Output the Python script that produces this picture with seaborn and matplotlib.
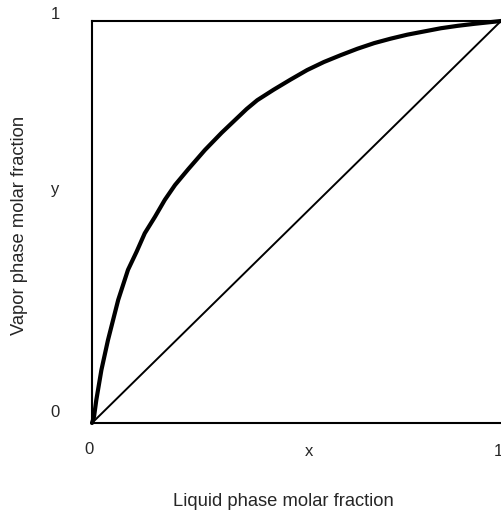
import matplotlib
matplotlib.use("Agg")
import matplotlib.pyplot as plt
import seaborn as sns
import pandas as pd

# Equilibrium curve
x_liquid = [0.0, 0.005, 0.0105, 0.023, 0.039, 0.064, 0.088, 0.109, 0.129, 0.154,
            0.178, 0.203, 0.235, 0.276, 0.317, 0.378, 0.404, 0.444, 0.485, 0.526,
            0.567, 0.608, 0.649, 0.690, 0.730, 0.771, 0.812, 0.853, 0.894, 0.935, 1.0]
y_vapor = [0.0, 0.016, 0.057, 0.132, 0.206, 0.306, 0.381, 0.426, 0.472, 0.513,
           0.555, 0.592, 0.631, 0.679, 0.722, 0.781, 0.803, 0.829, 0.854, 0.878,
           0.898, 0.915, 0.931, 0.945, 0.956, 0.966, 0.974, 0.982, 0.988, 0.993, 1.0]
# Diagonal y = x
diag_x = [0.0, 1.0]
diag_y = [0.0, 1.0]

x_ticklabels = ["0", "x", "1"]
y_ticklabels = ["0", "y", "1"]
x_label = "Liquid phase molar fraction"
y_label = "Vapor phase molar fraction"

sns.set_style("white")
plt.rcParams["font.family"] = ["Liberation Sans", "DejaVu Sans"]

fig = plt.figure(figsize=(5.01, 5.14), dpi=100)
ax = fig.add_axes([92 / 501, (514 - 423) / 514, 409 / 501, 402 / 514])

curve = pd.DataFrame({"x": x_liquid, "y": y_vapor})
diag = pd.DataFrame({"x": diag_x, "y": diag_y})
sns.lineplot(data=curve, x="x", y="y", ax=ax, color="black", linewidth=3.0,
             sort=False, estimator=None, clip_on=False,
             solid_joinstyle="round", solid_capstyle="round")
sns.lineplot(data=diag, x="x", y="y", ax=ax, color="black", linewidth=1.4,
             sort=False, estimator=None, clip_on=False)

ax.set_xlim(0, 1)
ax.set_ylim(0, 1)
ax.set_xticks([])
ax.set_yticks([])
ax.set_xlabel("")
ax.set_ylabel("")
for side in ["left", "bottom", "top"]:
    ax.spines[side].set_color("black")
    ax.spines[side].set_linewidth(1.5)
ax.spines["right"].set_visible(False)

fs_tick = 12
fs_lab = 13.2
tr = ax.transAxes
# x tick-like labels
ax.text(-0.007, -0.067, x_ticklabels[0], transform=tr, ha="center", va="center", fontsize=fs_tick)
ax.text(0.53, -0.072, x_ticklabels[1], transform=tr, ha="center", va="center", fontsize=fs_tick)
ax.text(0.993, -0.072, x_ticklabels[2], transform=tr, ha="center", va="center", fontsize=fs_tick)
# y tick-like labels
ax.text(-0.09, 0.025, y_ticklabels[0], transform=tr, ha="center", va="center", fontsize=fs_tick)
ax.text(-0.09, 0.58, y_ticklabels[1], transform=tr, ha="center", va="center", fontsize=fs_tick)
ax.text(-0.09, 1.015, y_ticklabels[2], transform=tr, ha="center", va="center", fontsize=fs_tick)

fig.text(283 / 501, 1 - 502 / 514, x_label, ha="center", va="center", fontsize=fs_lab)
fig.text(20 / 501, 1 - 225 / 514, y_label, ha="center", va="center", rotation=90, fontsize=fs_lab)

fig.savefig("out.png", dpi=100)
